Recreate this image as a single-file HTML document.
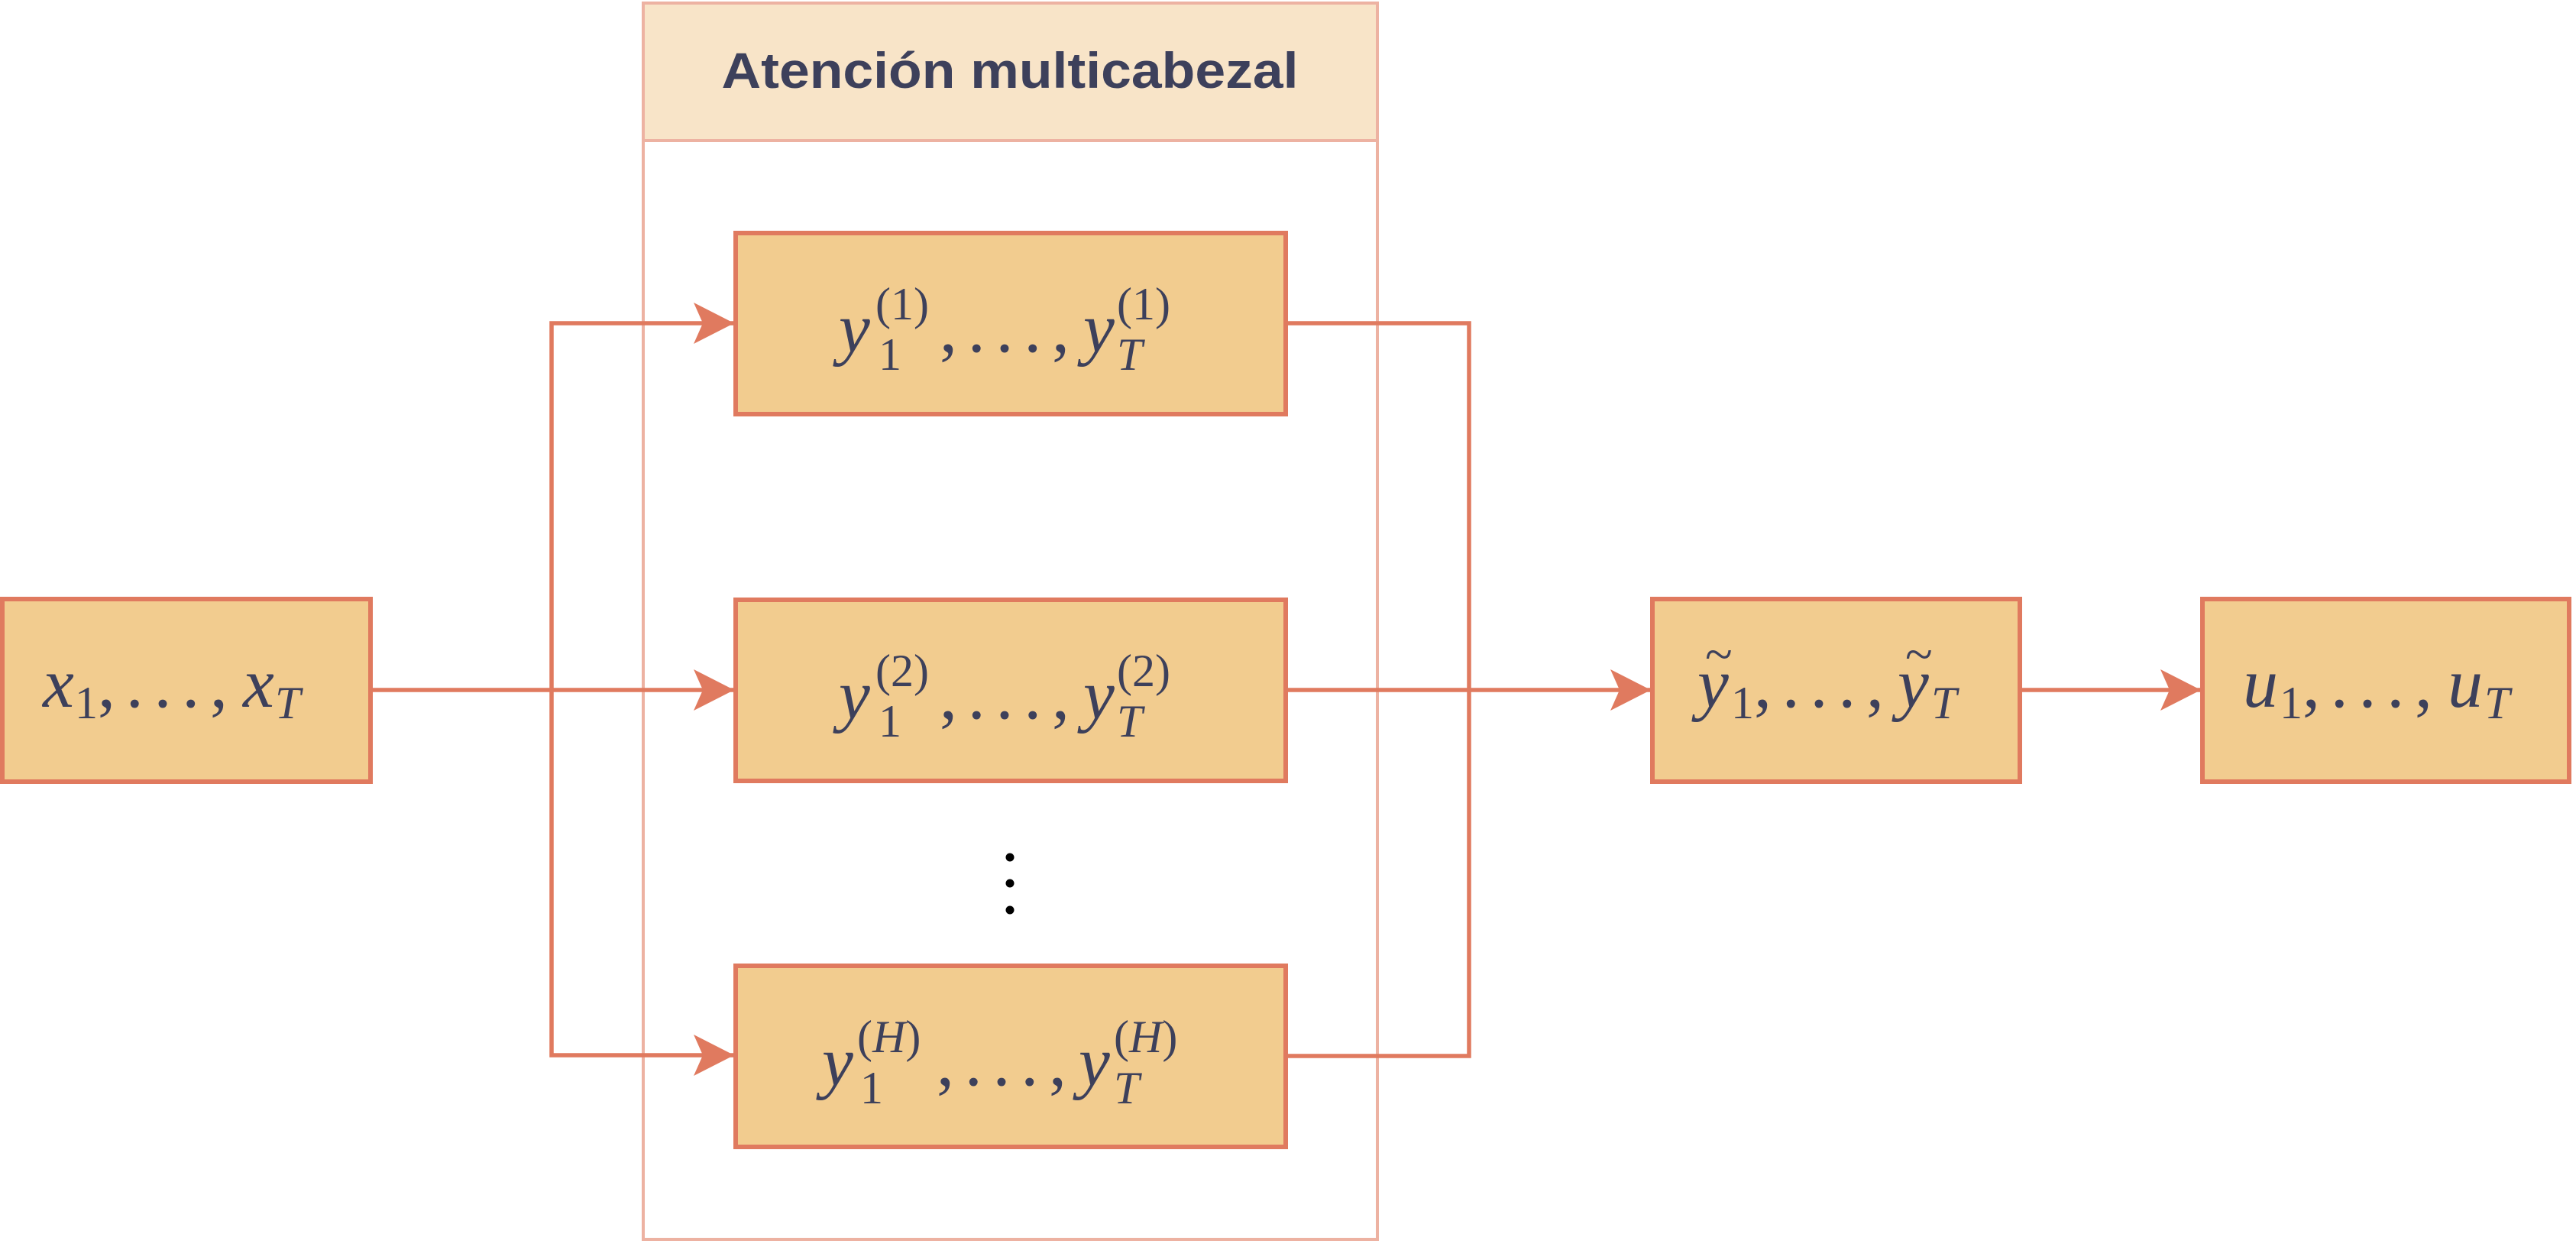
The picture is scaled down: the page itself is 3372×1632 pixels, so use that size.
<!DOCTYPE html>
<html><head><meta charset="utf-8"><style>html,body{margin:0;padding:0;background:#fff}svg{display:block}</style></head>
<body>
<svg width="3372" height="1632" viewBox="0 0 3372 1632" xmlns="http://www.w3.org/2000/svg">
<defs>
<marker id="ah" markerUnits="userSpaceOnUse" markerWidth="60" markerHeight="60" refX="53" refY="27" orient="auto">
<path d="M0,0 L53,27 L0,54 L12,27 Z" fill="#E07A5F"/>
</marker>
</defs>
<rect x="0" y="0" width="3372" height="1632" fill="#fff"/>
<rect x="842" y="4" width="961" height="1618" fill="#fff" stroke="#EDB2A2" stroke-width="4"/>
<rect x="842" y="4" width="961" height="180" fill="#F8E4C8" stroke="#EDB2A2" stroke-width="4"/>
<text x="1322" y="115" text-anchor="middle" font-family="Liberation Sans, sans-serif" font-weight="bold" font-size="66" fill="#3D405B" textLength="755" lengthAdjust="spacingAndGlyphs">Atención multicabezal</text>
<g fill="none" stroke="#E07A5F" stroke-width="5.5">
<path d="M485,903 L961,903" marker-end="url(#ah)"/>
<path d="M722,903 L722,423 L961,423" marker-end="url(#ah)"/>
<path d="M722,903 L722,1381 L961,1381" marker-end="url(#ah)"/>
<path d="M1683,423 L1923,423 L1923,1382 L1683,1382"/>
<path d="M1683,903 L2161,903" marker-end="url(#ah)"/>
<path d="M2644,903 L2881,903" marker-end="url(#ah)"/>
</g>
<g fill="#F2CC8F" stroke="#E07A5F" stroke-width="6">
<rect x="3" y="784" width="482" height="239"/>
<rect x="963" y="305" width="720" height="237"/>
<rect x="963" y="785" width="720" height="237"/>
<rect x="963" y="1264" width="720" height="237"/>
<rect x="2163" y="784" width="481" height="239"/>
<rect x="2883" y="784" width="480" height="239"/>
</g>
<g fill="#000"><circle cx="1322" cy="1122" r="5.5"/><circle cx="1322" cy="1156" r="5.5"/><circle cx="1322" cy="1191" r="5.5"/></g>
<g font-family="Liberation Serif, serif" fill="#3D405B">
<text x="56" y="925" font-size="92" font-style="italic">x</text>
<text x="98" y="940" font-size="60">1</text>
<text x="128" y="925" font-size="92" textLength="170" lengthAdjust="spacing">, . . . ,</text>
<text x="318" y="925" font-size="92" font-style="italic">x</text>
<text x="360" y="940" font-size="60" font-style="italic">T</text>
<g>
<text x="1098" y="460" font-size="92" font-style="italic">y</text>
<text x="1150" y="484" font-size="60">1</text>
<text x="1146" y="418" font-size="60">(1)</text>
<text x="1230" y="460" font-size="92" textLength="170" lengthAdjust="spacing">, . . . ,</text>
<text x="1418" y="460" font-size="92" font-style="italic">y</text>
<text x="1462" y="484" font-size="60" font-style="italic">T</text>
<text x="1462" y="418" font-size="60">(1)</text>
</g>
<g>
<text x="1098" y="940" font-size="92" font-style="italic">y</text>
<text x="1150" y="964" font-size="60">1</text>
<text x="1146" y="898" font-size="60">(2)</text>
<text x="1230" y="940" font-size="92" textLength="170" lengthAdjust="spacing">, . . . ,</text>
<text x="1418" y="940" font-size="92" font-style="italic">y</text>
<text x="1462" y="964" font-size="60" font-style="italic">T</text>
<text x="1462" y="898" font-size="60">(2)</text>
</g>
<g>
<text x="1076" y="1420" font-size="92" font-style="italic">y</text>
<text x="1126" y="1444" font-size="60">1</text>
<text x="1122" y="1377" font-size="60">(<tspan font-style="italic">H</tspan>)</text>
<text x="1226" y="1420" font-size="92" textLength="170" lengthAdjust="spacing">, . . . ,</text>
<text x="1412" y="1420" font-size="92" font-style="italic">y</text>
<text x="1458" y="1444" font-size="60" font-style="italic">T</text>
<text x="1458" y="1377" font-size="60">(<tspan font-style="italic">H</tspan>)</text>
</g>
<text x="2222" y="925" font-size="92" font-style="italic">y</text>
<text x="2232" y="878" font-size="66">~</text>
<text x="2266" y="940" font-size="60">1</text>
<text x="2296" y="925" font-size="92" textLength="170" lengthAdjust="spacing">, . . . ,</text>
<text x="2484" y="925" font-size="92" font-style="italic">y</text>
<text x="2494" y="878" font-size="66">~</text>
<text x="2528" y="940" font-size="60" font-style="italic">T</text>
<text x="2936" y="925" font-size="92" font-style="italic">u</text>
<text x="2984" y="940" font-size="60">1</text>
<text x="3014" y="925" font-size="92" textLength="170" lengthAdjust="spacing">, . . . ,</text>
<text x="3204" y="925" font-size="92" font-style="italic">u</text>
<text x="3252" y="940" font-size="60" font-style="italic">T</text>
</g>
</svg>
</body></html>
